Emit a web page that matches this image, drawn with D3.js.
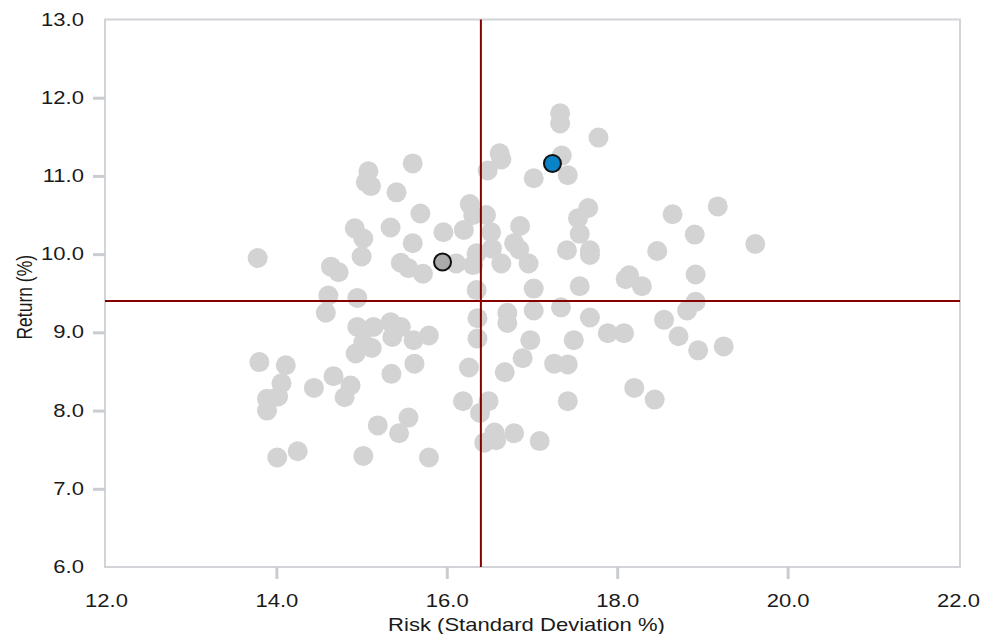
<!DOCTYPE html>
<html>
<head>
<meta charset="utf-8">
<script src="https://cdn.jsdelivr.net/npm/d3@7"></script>
<style>
  html, body { margin: 0; padding: 0; background: #ffffff; }
  svg { display: block; }
  text { font-family: "Liberation Sans", Arial, Helvetica, sans-serif; fill: #1a1a1a; }
</style>
</head>
<body>
<svg id="chart" width="983" height="634"></svg>
<script>
// ---- data ----
const riskValues = [
  17.33, 17.33, 17.78, 17.35, 17.42, 17.02, 16.62, 16.64, 16.48, 15.60,
  15.08, 15.05, 15.11, 15.41, 15.69, 14.92, 15.02, 15.34, 16.27, 16.31,
  16.46, 15.96, 16.20, 15.60, 13.78, 14.64, 14.73, 15.00, 15.46, 15.55,
  15.72, 16.11, 16.31, 16.35, 16.35, 14.61, 14.58, 14.95, 16.52, 16.53,
  16.79, 16.86, 16.64, 16.96, 16.85, 17.66, 17.54, 17.56, 17.41, 17.68,
  17.68, 18.65, 19.18, 18.91, 18.47, 19.62, 18.14, 18.10, 18.29, 18.92,
  18.92, 18.82, 17.02, 17.56, 17.34, 16.71, 16.71, 17.02, 17.68, 16.98,
  17.49, 17.89, 18.08, 18.55, 18.72, 18.95, 19.25, 16.89, 16.68, 17.26,
  17.42, 18.20, 18.44, 17.42, 16.36, 16.36, 14.95, 15.14, 15.34, 15.46,
  15.36, 15.61, 15.79, 15.02, 15.12, 14.93, 13.80, 14.11, 14.06, 13.89,
  14.02, 13.89, 14.44, 14.67, 14.87, 14.80, 15.35, 15.62, 16.26, 16.19,
  16.49, 16.39, 15.19, 15.55, 15.44, 16.44, 16.56, 16.58, 16.79, 17.09,
  14.01, 14.25, 15.02, 15.79
];
const returnValues = [
  11.80, 11.67, 11.49, 11.26, 11.01, 10.97, 11.29, 11.21, 11.07, 11.16,
  11.06, 10.92, 10.87, 10.79, 10.52, 10.33, 10.20, 10.34, 10.64, 10.50,
  10.50, 10.28, 10.31, 10.14, 9.95, 9.84, 9.77, 9.97, 9.89, 9.82,
  9.75, 9.88, 9.86, 10.01, 9.54, 9.47, 9.25, 9.44, 10.28, 10.07,
  10.14, 10.36, 9.88, 9.88, 10.06, 10.59, 10.46, 10.26, 10.05, 10.05,
  9.99, 10.51, 10.61, 10.25, 10.04, 10.13, 9.73, 9.68, 9.59, 9.74,
  9.39, 9.28, 9.56, 9.59, 9.32, 9.25, 9.12, 9.28, 9.19, 8.90,
  8.90, 8.99, 8.99, 9.16, 8.95, 8.77, 8.82, 8.67, 8.49, 8.60,
  8.59, 8.29, 8.14, 8.12, 9.18, 8.92, 9.07, 9.07, 9.13, 9.07,
  8.94, 8.90, 8.96, 8.87, 8.80, 8.73, 8.62, 8.58, 8.35, 8.15,
  8.18, 8.00, 8.29, 8.44, 8.32, 8.17, 8.47, 8.60, 8.55, 8.12,
  8.12, 7.97, 7.81, 7.91, 7.71, 7.59, 7.72, 7.62, 7.71, 7.61,
  7.40, 7.48, 7.42, 7.40
];
const highlightRisk = [15.95, 17.24];
const highlightReturn = [9.90, 11.16];
const highlightColors = ["#aaaaaa", "#0a84c6"];
const avgRisk = 16.40;
const avgReturn = 9.40;
const xTicks = [12, 14, 16, 18, 20, 22];
const yTicks = [6, 7, 8, 9, 10, 11, 12, 13];
const xTitle = "Risk (Standard Deviation %)";
const yTitle = "Return (%)";

// ---- layout ----
const svg = d3.select("#chart");
const frame = {left: 105, right: 960, top: 19.5, bottom: 567};
const x = d3.scaleLinear().domain([12, 22]).range([106, 958]);
const y = d3.scaleLinear().domain([6, 13]).range([567, 19.5]);
const fmt = d3.format(".1f");
const STRETCH = 1.26;
const FS = "17.5px";

// frame
svg.append("rect")
  .attr("x", frame.left).attr("y", frame.top)
  .attr("width", frame.right - frame.left).attr("height", frame.bottom - frame.top)
  .attr("fill", "none").attr("stroke", "#d2d4d7").attr("stroke-width", 2);

// y axis
const yAxis = svg.append("g").attr("transform", `translate(${frame.left},0)`)
  .call(d3.axisLeft(y).tickValues(yTicks).tickFormat(fmt).tickSize(12).tickPadding(9));
yAxis.select(".domain").remove();
yAxis.selectAll(".tick line")
  .attr("stroke", "#c9cdd2").attr("stroke-width", 3)
  .attr("display", d => (d === 6 || d === 13) ? "none" : null);
yAxis.selectAll(".tick text").each(function() {
  const t = d3.select(this);
  const xx = +t.attr("x");
  t.attr("x", 0).attr("transform", `translate(${xx},0) scale(${STRETCH},1)`)
   .style("font-size", FS).attr("fill", "#1a1a1a");
});

// x axis
const xAxis = svg.append("g").attr("transform", `translate(0,${frame.bottom})`)
  .call(d3.axisBottom(x).tickValues(xTicks).tickFormat(fmt).tickSize(12).tickPadding(16));
xAxis.select(".domain").remove();
xAxis.selectAll(".tick line")
  .attr("stroke", "#c9cdd2").attr("stroke-width", 3)
  .attr("display", d => (d === 12 || d === 22) ? "none" : null);
xAxis.selectAll(".tick text").each(function() {
  const t = d3.select(this);
  const yy = +t.attr("y");
  t.attr("y", 0).attr("transform", `translate(0,${yy}) scale(${STRETCH},1)`)
   .style("font-size", FS).attr("fill", "#1a1a1a");
});

// titles
svg.append("text")
  .attr("transform", `translate(${(frame.left + frame.right) / 2 - 6},631) scale(${STRETCH},1)`)
  .attr("text-anchor", "middle").style("font-size", FS).text(xTitle);
svg.append("text")
  .attr("transform", `translate(24,${(frame.top + frame.bottom) / 2 + 4}) rotate(-90) scale(1,${STRETCH})`)
  .attr("text-anchor", "middle").attr("dy", "0.35em").style("font-size", FS).text(yTitle);

// points
const pts = riskValues.map((r, i) => ({r, ret: returnValues[i]}));
svg.append("g").selectAll("circle").data(pts).join("circle")
  .attr("cx", d => x(d.r)).attr("cy", d => y(d.ret)).attr("r", 10)
  .attr("fill", "#d3d3d3");

// average lines
svg.append("line")
  .attr("x1", x(avgRisk)).attr("x2", x(avgRisk))
  .attr("y1", frame.top).attr("y2", frame.bottom)
  .attr("stroke", "#870000").attr("stroke-width", 2);
svg.append("line")
  .attr("x1", frame.left).attr("x2", frame.right)
  .attr("y1", y(avgReturn)).attr("y2", y(avgReturn))
  .attr("stroke", "#870000").attr("stroke-width", 2);

// highlighted points
const hp = highlightRisk.map((r, i) => ({r, ret: highlightReturn[i], c: highlightColors[i]}));
svg.append("g").selectAll("circle").data(hp).join("circle")
  .attr("cx", d => x(d.r)).attr("cy", d => y(d.ret)).attr("r", 8.5)
  .attr("fill", d => d.c).attr("stroke", "#111").attr("stroke-width", 2);
</script>
</body>
</html>
